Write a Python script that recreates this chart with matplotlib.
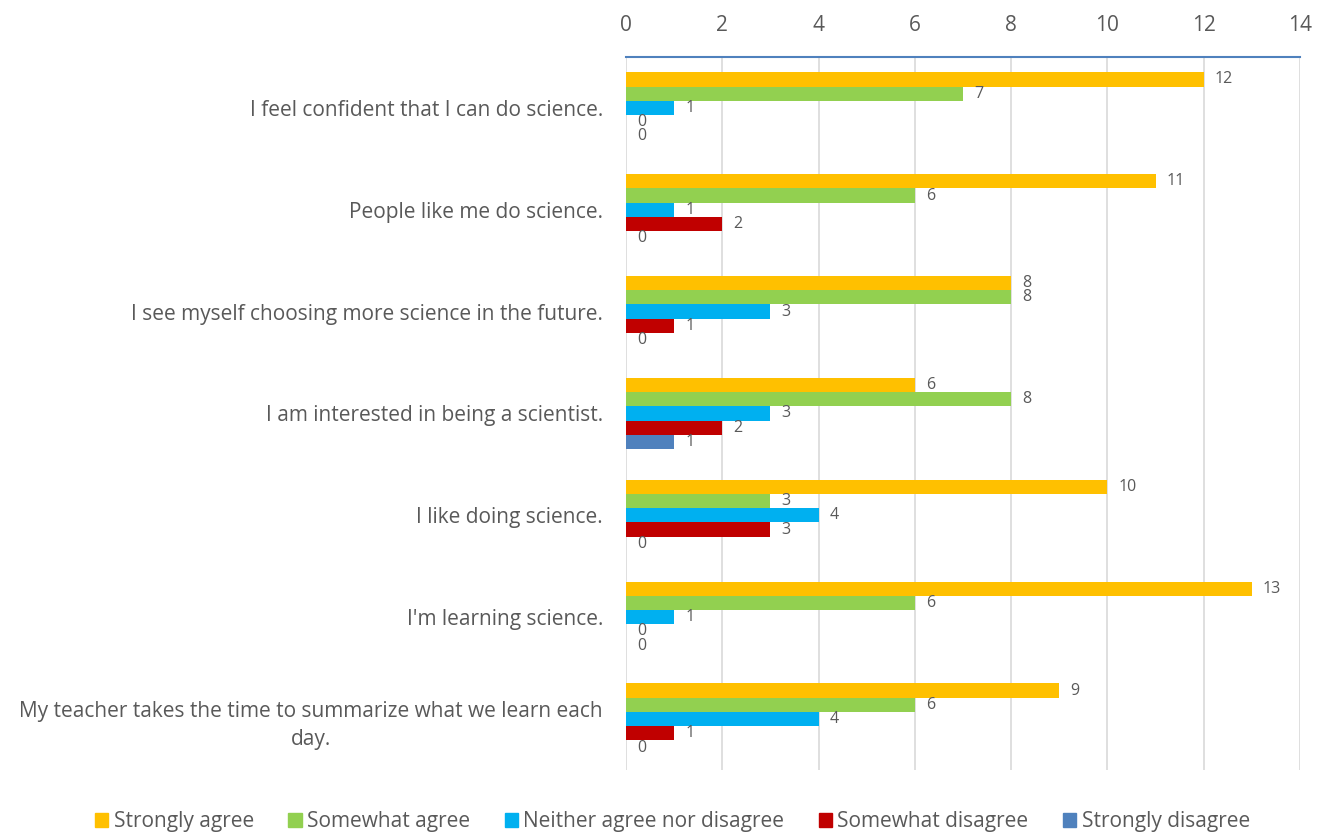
import matplotlib
matplotlib.use("Agg")
import matplotlib.pyplot as plt
import numpy as np
from matplotlib.patches import Patch

plt.rcParams['font.family'] = ['Open Sans', 'DejaVu Sans']

categories = [
    "I feel confident that I can do science.",
    "People like me do science.",
    "I see myself choosing more science in the future.",
    "I am interested in being a scientist.",
    "I like doing science.",
    "I'm learning science.",
    "My teacher takes the time to summarize what we learn each\nday.",
]
series_names = ["Strongly agree", "Somewhat agree", "Neither agree nor disagree",
                "Somewhat disagree", "Strongly disagree"]
strongly_agree = [12, 11, 8, 6, 10, 13, 9]
somewhat_agree = [7, 6, 8, 8, 3, 6, 6]
neither = [1, 1, 3, 3, 4, 1, 4]
somewhat_disagree = [0, 2, 1, 2, 3, 0, 1]
strongly_disagree = [0, 0, 0, 1, 0, 0, 0]
series = [strongly_agree, somewhat_agree, neither, somewhat_disagree, strongly_disagree]
colors = ["#FFC000", "#92D050", "#00B0F0", "#C00000", "#4F81BD"]

fig = plt.figure(figsize=(13.21, 8.34), dpi=100)
ax = fig.add_axes([0.4739, 0.0767, 0.5102, 0.855])

n = len(categories)
bh = 0.14
y0 = np.arange(n)
txtc = "#595959"
for i, (vals, c) in enumerate(zip(series, colors)):
    ys = y0 - 0.28 + i * bh
    ax.barh(ys, vals, height=bh, color=c, zorder=3)
    for y, v in zip(ys, vals):
        ax.annotate(str(v), (v, y), xytext=(8, 0), textcoords="offset points",
                    va="center", ha="left", fontsize=11.5, color=txtc)

ax.set_ylim(n - 0.5, -0.5)
ax.set_xlim(0, 14)
ax.set_xticks(range(0, 15, 2))
ax.xaxis.tick_top()
ax.tick_params(axis='x', length=0, labelsize=15, colors=txtc, pad=15)
ax.set_yticks(y0)
ax.set_yticklabels(categories, fontsize=15, color=txtc, ha="right", linespacing=1.45)
ax.tick_params(axis='y', length=0, pad=0)
for lab in ax.get_yticklabels():
    lab.set_multialignment("center")
    lab.set_x(-0.034)
ax.grid(axis='x', color="#D9D9D9", linewidth=1.2, zorder=0)
for s in ["left", "right", "bottom"]:
    ax.spines[s].set_visible(False)
ax.spines["top"].set_color("#4F81BD")
ax.spines["top"].set_linewidth(1.5)

handles = [Patch(color=c) for c in colors]
fig.legend(handles, series_names, loc="center", bbox_to_anchor=(0.509, 0.015),
           ncol=5, frameon=False, fontsize=15, handlelength=0.65, handleheight=0.65,
           handletextpad=0.25, columnspacing=1.65, labelcolor=txtc)

fig.savefig("out.png", dpi=100)
